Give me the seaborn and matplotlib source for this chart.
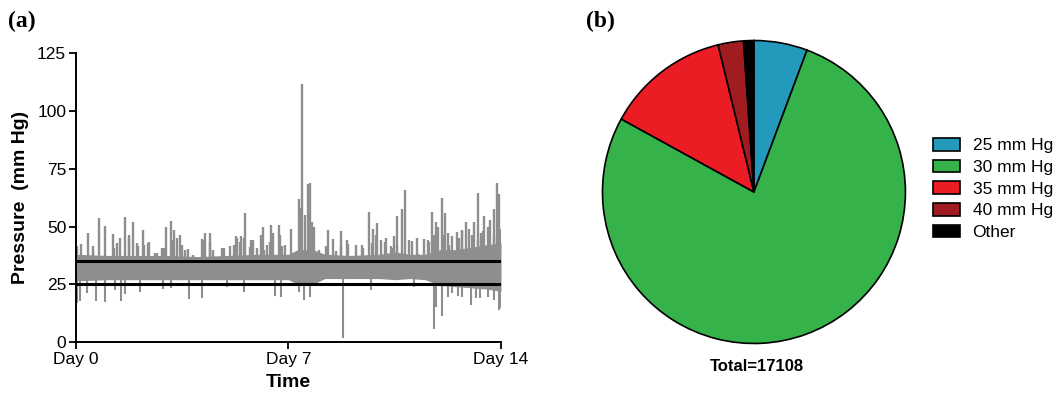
import matplotlib
matplotlib.use("Agg")
import matplotlib.pyplot as plt
import seaborn as sns
import pandas as pd

# (a) pressure trace
band_days = [0, 1, 2, 3, 4, 5, 6, 7, 7.3, 7.8, 8.2, 9, 10, 10.5, 11, 11.5, 12, 12.5, 13, 13.5, 14]
band_top = [38, 37.5, 37.5, 37.5, 37, 37.5, 38, 38, 40, 40, 38, 37.5, 38, 39, 38, 38, 40, 40, 41, 42, 43]
band_bottom = [26.5, 27, 27, 27, 27, 27, 27, 27, 25, 25, 27.5, 27.5, 27.5, 27, 27.5, 27, 24.5, 24, 23.5, 23, 22]

peak_days = [0.04, 0.15, 0.39, 0.55, 0.77, 0.96, 1.21, 1.36, 1.61, 1.74, 1.87, 2.03, 2.20, 2.37, 2.61,
             2.85, 2.98, 3.14, 3.24, 3.43, 3.69, 3.87, 4.14, 4.26, 4.40, 4.53, 4.81, 5.08, 5.28, 5.41,
             5.58, 5.72, 5.82, 6.08, 6.16, 6.30, 6.43, 6.49, 6.68, 6.78, 7.07, 7.34, 7.40, 7.46, 7.53,
             7.64, 7.70, 7.78, 7.84, 8.00, 8.22, 8.31, 8.47, 8.74, 8.95, 9.24, 9.46, 9.65, 9.80, 9.91,
             10.04, 10.17, 10.37, 10.48, 10.59, 10.75, 10.83, 10.97, 11.08, 11.25, 11.45, 11.61, 11.74,
             11.85, 11.93, 12.07, 12.16, 12.26, 12.37, 12.55, 12.73, 12.84, 12.95, 13.10, 13.25, 13.34,
             13.45, 13.56, 13.65, 13.78, 13.86, 13.89, 13.94, 13.99]
peak_values = [41.4, 42.5, 47.0, 41.4, 53.6, 50.3, 46.9, 43.0, 54.0, 44.5, 51.8, 41.4, 48.3, 42.8, 38.5,
               40.7, 50.0, 52.5, 48.6, 46.4, 40.2, 37.5, 44.5, 47.0, 47.0, 40.0, 40.6, 41.7, 45.7, 43.3,
               56.0, 41.0, 44.2, 46.4, 50.0, 42.0, 50.7, 47.0, 50.7, 41.4, 48.9, 61.9, 58.0, 111.6, 55.0,
               68.5, 69.0, 52.0, 50.0, 40.0, 41.4, 48.3, 44.8, 41.4, 42.5, 42.1, 40.6, 56.2, 49.0, 51.5,
               44.0, 43.1, 41.7, 45.7, 54.4, 57.5, 65.9, 44.3, 43.6, 38.0, 44.5, 44.2, 56.1,
               51.8, 50.0, 62.3, 55.7, 47.0, 45.7, 47.8, 48.3, 51.8, 48.9, 51.8, 64.4, 47.0,
               54.4, 50.0, 52.6, 57.4, 68.8, 64.0, 64.2, 48.4]

# shorter spikes just above the band
minor_days = [0.57, 1.25, 1.45, 1.76, 2.00, 2.24, 2.41, 2.66, 2.91, 3.16, 3.32, 3.49, 3.60, 4.23, 4.42,
              4.86, 5.19, 5.31, 5.42, 5.53, 5.78, 5.97, 6.18, 6.38, 6.73, 6.88, 8.33, 8.55, 8.72, 8.94,
              9.21, 9.43, 9.76, 9.87, 10.20, 10.42, 10.58, 11.24, 11.40, 11.62, 11.79, 12.12, 12.29,
              12.45, 12.62, 12.73, 13.06, 13.23, 13.40, 13.78, 13.97]
minor_values = [39.2, 40.6, 45.0, 46.4, 42.8, 42.1, 43.5, 38.5, 40.6, 44.3, 45.0, 42.1, 39.9, 44.3, 43.5,
                40.6, 42.1, 45.0, 45.7, 45.0, 44.3, 40.6, 39.9, 43.5, 46.4, 42.1, 37.8, 39.2, 47.9, 44.3,
                37.0, 42.1, 42.8, 46.4, 45.0, 40.6, 42.1, 45.0, 37.8, 43.5, 46.4, 46.4, 42.1,
                39.2, 45.0, 47.9, 46.4, 44.3, 47.9, 46.4, 49.0]

dip_days = [0.04, 0.13, 0.35, 0.66, 0.97, 1.29, 1.47, 1.63, 2.11, 2.88, 3.13, 3.71, 4.15, 4.97, 5.52,
            6.57, 6.74, 7.34, 7.51, 7.70, 8.80, 9.71, 11.14, 11.78, 11.85, 12.07, 12.24, 12.40, 12.57,
            12.73, 13.01, 13.17, 13.32, 13.56, 13.78, 13.94, 14.0]
dip_values = [16.9, 17.6, 21.2, 17.9, 17.2, 22.6, 17.6, 20.8, 21.5, 23.0, 23.4, 18.6, 19.0, 23.8, 21.5,
              20.0, 19.7, 21.5, 18.4, 19.4, 1.7, 22.6, 23.8, 5.6, 15.4, 11.1, 19.7, 21.2, 20.0,
              19.7, 16.1, 19.0, 18.9, 19.5, 18.2, 14.0, 14.7]

limits = [25, 35]
day_ticks = [0, 7, 14]
day_labels = ["Day 0", "Day 7", "Day 14"]

# (b) share of readings per pressure setting
settings = ["25 mm Hg", "30 mm Hg", "35 mm Hg", "40 mm Hg", "Other"]
counts = [975, 13225, 2258, 462, 188]
total = 17108
pie_colors = ["#2399bb", "#35b24a", "#ec1c24", "#a01c20", "#000000"]

sns.set_style("ticks")
plt.rcParams["font.family"] = ["Liberation Sans", "DejaVu Sans"]
plt.rcParams.update({"text.color": "black", "axes.labelcolor": "black",
                     "xtick.color": "black", "ytick.color": "black"})

fig = plt.figure(figsize=(10.61, 3.96), dpi=100)
ax = fig.add_axes([0.0716, 0.136, 0.4006, 0.730])

band = pd.DataFrame({"day": band_days, "top": band_top, "bottom": band_bottom})
peaks = pd.DataFrame({"day": peak_days + minor_days, "value": peak_values + minor_values})
dips = pd.DataFrame({"day": dip_days, "value": dip_values})
trace_grey = "#8e8e8e"

ax.fill_between(band["day"], band["bottom"], band["top"], color=trace_grey, lw=0)
ax.vlines(peaks["day"], 34, peaks["value"], color=trace_grey, lw=1.7)
ax.vlines(dips["day"], dips["value"], 28, color=trace_grey, lw=1.5)
for lim in limits:
    ax.axhline(lim, color="black", lw=2.2, zorder=3)

ax.set_xlim(0, 14)
ax.set_ylim(0, 125)
ax.set_yticks(range(0, 126, 25))
ax.set_xticks(day_ticks)
ax.set_xticklabels(day_labels)
ax.tick_params(axis="both", labelsize=12.5, width=1.3, length=5, pad=2)
for side in ["left", "bottom"]:
    ax.spines[side].set_linewidth(1.4)
    ax.spines[side].set_color("black")
sns.despine(ax=ax)
ax.set_xlabel("Time", fontsize=14, fontweight="bold", labelpad=5)
ax.set_ylabel("Pressure  (mm Hg)", fontsize=14, fontweight="bold", labelpad=6)

fig.text(0.008, 0.945, "(a)", family=["Liberation Serif", "DejaVu Serif"], fontsize=17,
         fontweight="bold", va="center")
fig.text(0.552, 0.945, "(b)", family=["Liberation Serif", "DejaVu Serif"], fontsize=17,
         fontweight="bold", va="center")

ax2 = fig.add_axes([0.5664, 0.1288, 0.2884, 0.7727])
wedges, _ = ax2.pie(counts, colors=sns.color_palette(pie_colors), startangle=90, counterclock=False,
                    wedgeprops=dict(edgecolor="black", linewidth=1.2))
ax2.set_xlim(-1.01, 1.01)
ax2.set_ylim(-1.01, 1.01)
ax2.set_aspect("equal")

fig.text(0.713, 0.074, f"Total={total}", ha="center", va="center", fontsize=12, fontweight="bold")

leg = fig.legend(wedges, settings, loc="center left", bbox_to_anchor=(0.879, 0.523), frameon=False,
                 fontsize=12.5, handlelength=1.6, handleheight=0.75, labelspacing=0.36,
                 handletextpad=0.7, borderpad=0, borderaxespad=0)

fig.savefig("out.png", dpi=100)
